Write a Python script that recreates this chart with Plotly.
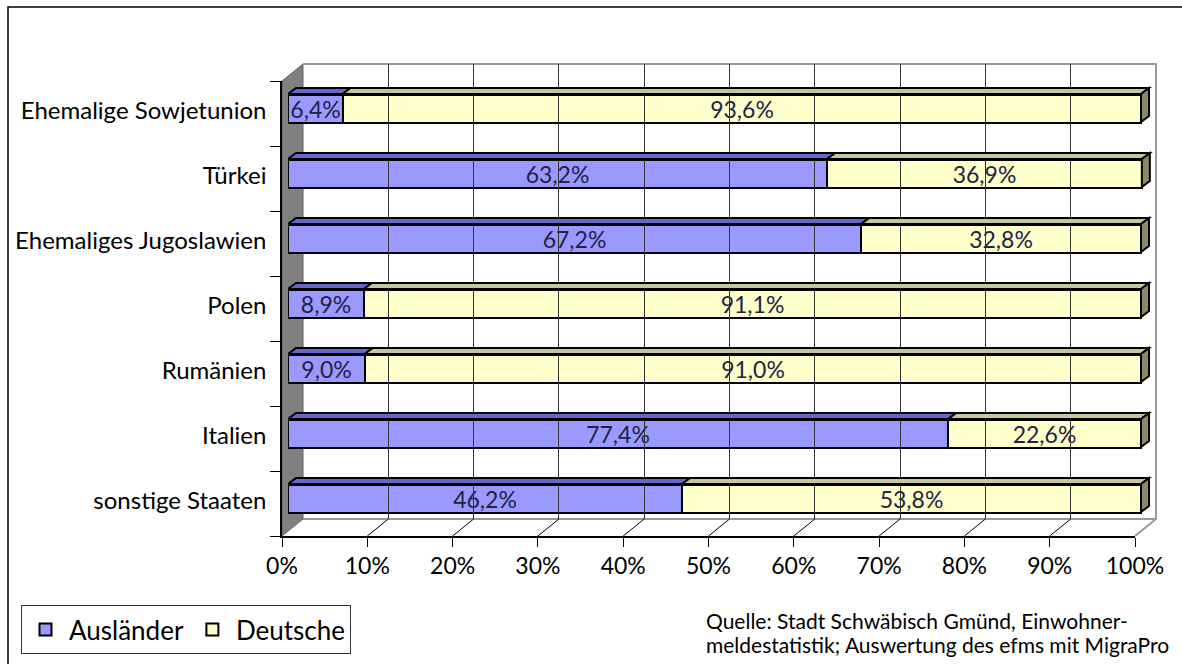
import plotly.graph_objects as go

# Herkunftsländer (von unten nach oben) und Anteile in Prozent
countries = ["sonstige Staaten", "Italien", "Rumänien", "Polen",
             "Ehemaliges Jugoslawien", "Türkei", "Ehemalige Sowjetunion"]
auslaender = [46.2, 77.4, 9.0, 8.9, 67.2, 63.2, 6.4]
deutsche = [53.8, 22.6, 91.0, 91.1, 32.8, 36.9, 93.6]
x_ticks = list(range(0, 101, 10))
x_ticktext = [f"{v}%" for v in x_ticks]

source_lines = ["Quelle: Stadt Schwäbisch Gmünd, Einwohner-",
                "meldestatistik; Auswertung des efms mit MigraPro"]

W, H = 1182, 664
FONT = "Lato"
BLUE, BLUE_TOP = "#9999ff", "#6666cc"
YELLOW, YELLOW_TOP, YELLOW_SIDE = "#ffffcc", "#c6c69c", "#88886a"


def px(x):
    return x / W


def py(y):
    return 1 - y / H


# pixel layout of the pseudo-3D box
FX0, FX1 = 282, 1135          # front floor edge (0 % .. 100 %)
FY_BOT, FY_TOP = 536, 81      # front left edge
DX, DY = 21, 17               # depth offset of the back wall
BX0, BX1 = 288, 1141          # front face of the bars (0 % .. 100 %)
ROW = (FY_BOT - FY_TOP) / len(countries)
BAR_H = 28
BAR_DX, BAR_DY = 8, 6         # depth of the bars
BY_BOT = 530.5                # bar axis bottom (-0.5)
BY_TOP = BY_BOT - ROW * len(countries)
BAR_XMAX = 103                # room on the right for the side faces
bar_scale = (BX1 - BX0) / 100


def fmt(v):
    return f"{v:.1f}".replace(".", ",") + "%"


rows = list(range(len(countries)))
fig = go.Figure()
for name, vals, col in [("Ausländer", auslaender, BLUE), ("Deutsche", deutsche, YELLOW)]:
    fig.add_trace(go.Bar(
        y=rows, x=vals, orientation="h", name=name,
        marker=dict(color=col, line=dict(color="black", width=2)),
        width=BAR_H / ROW, text=[fmt(v) for v in vals],
        textposition="inside", insidetextanchor="middle", textangle=0,
        constraintext="none",
        textfont=dict(family=FONT, size=23, color="#222244"),
        hoverinfo="skip",
    ))

# empty placeholders so the front axes and the back wall grid get drawn
for xa, ya in [("x2", "y2"), ("x3", "y3")]:
    fig.add_trace(go.Scatter(x=[None], y=[None], xaxis=xa, yaxis=ya,
                             mode="markers", showlegend=False, hoverinfo="skip"))

shapes = []
# outer frame
shapes.append(dict(type="rect", xref="paper", yref="paper",
                   x0=px(8), x1=px(W + 10), y0=py(H + 10), y1=py(7),
                   line=dict(color="black", width=1.5), layer="below"))
# left side wall
shapes.append(dict(type="path", xref="paper", yref="paper",
                   path=(f"M{px(FX0)},{py(FY_BOT)} L{px(FX0)},{py(FY_TOP)} "
                         f"L{px(FX0 + DX)},{py(FY_TOP - DY)} "
                         f"L{px(FX0 + DX)},{py(FY_BOT - DY)} Z"),
                   fillcolor="#808080", line=dict(color="#606060", width=1),
                   layer="below"))
# back wall outline (top, right, bottom)
shapes.append(dict(type="path", xref="paper", yref="paper",
                   path=(f"M{px(FX0 + DX)},{py(FY_TOP - DY)} "
                         f"L{px(FX1 + DX)},{py(FY_TOP - DY)} "
                         f"L{px(FX1 + DX)},{py(FY_BOT - DY)} "
                         f"L{px(FX0 + DX)},{py(FY_BOT - DY)}"),
                   line=dict(color="#999999", width=2), layer="below"))
# floor grid lines running from the front ticks to the back wall
front_scale = (FX1 - FX0) / 100
for v in x_ticks[1:]:
    xf = FX0 + v * front_scale
    color = "#999999" if v == 100 else "black"
    width = 2 if v == 100 else 1
    shapes.append(dict(type="line", xref="paper", yref="paper",
                       x0=px(xf), y0=py(FY_BOT), x1=px(xf + DX), y1=py(FY_BOT - DY),
                       line=dict(color=color, width=width), layer="below"))

# top and side faces of the bars, in bar-axis data units
ddx = BAR_DX / bar_scale
ddy = BAR_DY / ROW
half = BAR_H / ROW / 2
for i in rows:
    segs = [(0, auslaender[i], BLUE_TOP),
            (auslaender[i], auslaender[i] + deutsche[i], YELLOW_TOP)]
    top = i + half
    bot = i - half
    for a, b, col in segs:
        shapes.append(dict(type="path", xref="x", yref="y",
                           path=(f"M{a},{top} L{b},{top} L{b + ddx},{top + ddy} "
                                 f"L{a + ddx},{top + ddy} Z"),
                           fillcolor=col, line=dict(color="black", width=2),
                           layer="above"))
    end = auslaender[i] + deutsche[i]
    shapes.append(dict(type="path", xref="x", yref="y",
                       path=(f"M{end},{top} L{end + ddx},{top + ddy} "
                             f"L{end + ddx},{bot + ddy} L{end},{bot} Z"),
                       fillcolor=YELLOW_SIDE, line=dict(color="black", width=2),
                       layer="above"))

annotations = [dict(text=line, xref="paper", yref="paper",
                    x=px(704), y=py(620 + 24 * k), xanchor="left", yanchor="middle",
                    align="left", showarrow=False,
                    font=dict(family=FONT, size=21, color="black"))
               for k, line in enumerate(source_lines)]

fig.update_layout(
    width=W, height=H,
    margin=dict(l=0, r=0, t=0, b=0, autoexpand=False),
    paper_bgcolor="white", plot_bgcolor="rgba(0,0,0,0)",
    barmode="stack", bargap=0,
    font=dict(family=FONT, size=21, color="black"),
    showlegend=True,
    legend=dict(orientation="h", x=px(21), y=py(605), xanchor="left", yanchor="top",
                bordercolor="#333333", borderwidth=1, bgcolor="white",
                font=dict(family=FONT, size=26, color="black"),
                itemwidth=37, traceorder="normal"),
    # bars
    xaxis=dict(domain=[px(BX0), px(BX0 + BAR_XMAX * bar_scale)],
               range=[0, BAR_XMAX], visible=False, fixedrange=True,
               automargin=False),
    yaxis=dict(domain=[py(BY_BOT), py(BY_TOP)], range=[-0.5, len(rows) - 0.5],
               visible=False, fixedrange=True, automargin=False),
    # front floor axis with the percent labels
    xaxis2=dict(domain=[px(FX0), px(FX1)], range=[0, 100], anchor="y2",
                tickmode="array", tickvals=x_ticks, ticktext=x_ticktext,
                ticks="outside", ticklen=9, tickcolor="black", tickwidth=1,
                showline=True, linecolor="black", linewidth=1.5,
                showgrid=False, zeroline=False, automargin=False,
                tickfont=dict(family=FONT, size=23, color="black")),
    # front left axis with the country labels
    yaxis2=dict(domain=[py(FY_BOT), py(FY_TOP)], range=[-0.5, len(rows) - 0.5],
                anchor="x2", tickmode="array", tickvals=rows, ticktext=countries,
                ticks="", showline=True, linecolor="black", linewidth=1.5,
                showgrid=False, zeroline=False, automargin=False,
                ticklabelstandoff=9, ticklabelshift=-3,
                minor=dict(tickmode="array",
                           tickvals=[r - 0.5 for r in rows] + [len(rows) - 0.5],
                           ticks="outside", ticklen=10, tickcolor="black",
                           tickwidth=1, showgrid=False),
                tickfont=dict(family=FONT, size=24, color="black")),
    # back wall with its grid
    xaxis3=dict(domain=[px(FX0 + DX), px(FX1 + DX)], range=[0, 100], anchor="y3",
                tickmode="array", tickvals=x_ticks[1:-1], showticklabels=False,
                ticks="", showgrid=True, gridcolor="#333333", gridwidth=1,
                showline=False, zeroline=False, automargin=False),
    yaxis3=dict(domain=[py(FY_BOT - DY), py(FY_TOP - DY)], range=[0, 1],
                anchor="x3", showgrid=False, showticklabels=False,
                ticks="", showline=False, zeroline=False, automargin=False),
    shapes=shapes,
    annotations=annotations,
)

fig.write_html("out.html")
